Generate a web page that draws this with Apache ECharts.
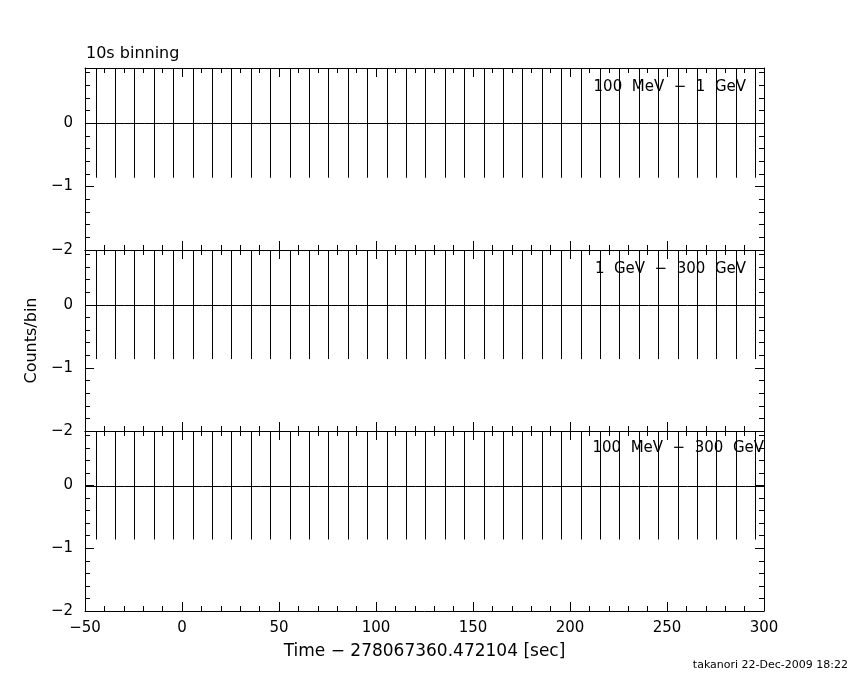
<!DOCTYPE html>
<html>
<head>
<meta charset="utf-8">
<script src="https://cdn.jsdelivr.net/npm/echarts@6/dist/echarts.min.js"></script>
<style>
html,body{margin:0;padding:0;background:#fff;}
#chart{width:850px;height:680px;}
</style>
</head>
<body>
<div id="chart"></div>
<script>
// ---- data ----
var binCenters = [-44.5,-34.5,-24.5,-14.5,-4.5,5.5,15.5,25.5,35.5,45.5,55.5,65.5,75.5,85.5,95.5,105.5,115.5,125.5,135.5,145.5,155.5,165.5,175.5,185.5,195.5,205.5,215.5,225.5,235.5,245.5,255.5,265.5,275.5,285.5,295.5];
var countsLow  = [0,0,0,0,0,0,0,0,0,0,0,0,0,0,0,0,0,0,0,0,0,0,0,0,0,0,0,0,0,0,0,0,0,0,0];
var countsHigh = [0,0,0,0,0,0,0,0,0,0,0,0,0,0,0,0,0,0,0,0,0,0,0,0,0,0,0,0,0,0,0,0,0,0,0];
var countsAll  = [0,0,0,0,0,0,0,0,0,0,0,0,0,0,0,0,0,0,0,0,0,0,0,0,0,0,0,0,0,0,0,0,0,0,0];
var countErr   = [0.86,0.86,0.86,0.86,0.86,0.86,0.86,0.86,0.86,0.86,0.86,0.86,0.86,0.86,0.86,0.86,0.86,0.86,0.86,0.86,0.86,0.86,0.86,0.86,0.86,0.86,0.86,0.86,0.86,0.86,0.86,0.86,0.86,0.86,0.86];
var binHalfWidth = 5;
var panelLabels = ['100  MeV  \u2212  1  GeV', '1  GeV  \u2212  300  GeV', '100  MeV  \u2212  300  GeV'];
var xTitle = 'Time \u2212 278067360.472104 [sec]';
var yTitle = 'Counts/bin';
var topTitle = '10s binning';
var footer = 'takanori 22-Dec-2009 18:22';
var xMin = -50, xMax = 300, yMin = -2, yMax = 0.87;

var FONT = 'DejaVu Sans';
var chart = echarts.init(document.getElementById('chart'), null, {renderer: 'canvas'});

var grids = [
  {left: 85, right: 86, top: 68, height: 182},
  {left: 85, right: 86, top: 250, height: 181},
  {left: 85, right: 86, top: 431, height: 180}
];
var seriesData = [countsLow, countsHigh, countsAll];

var xAxes = [], yAxes = [], series = [];
var lineStyle = {color: '#000', width: 1};
function minusFmt(v){ return String(v).replace('-', '\u2212'); }

grids.forEach(function(g, i){
  var isLast = (i === grids.length - 1);
  ['bottom','top'].forEach(function(pos){
    xAxes.push({
      type: 'value', gridIndex: i, position: pos, min: xMin, max: xMax, interval: 50,
      axisLine: {show: true, onZero: false, lineStyle: lineStyle},
      axisTick: {show: true, inside: true, length: 9, lineStyle: lineStyle},
      minorTick: {show: true, splitNumber: 5, length: 5, lineStyle: lineStyle},
      splitLine: {show: false},
      axisLabel: {show: isLast && pos === 'bottom', color: '#000', fontFamily: FONT, fontSize: 15, margin: 10, formatter: minusFmt},
      name: (isLast && pos === 'bottom') ? xTitle : '',
      nameLocation: 'middle', nameGap: 32,
      nameTextStyle: {color: '#000', fontFamily: FONT, fontSize: 17}
    });
  });
  ['left','right'].forEach(function(pos){
    yAxes.push({
      type: 'value', gridIndex: i, position: pos, min: yMin, max: yMax, interval: 1,
      axisLine: {show: true, onZero: false, lineStyle: lineStyle},
      axisTick: {show: true, inside: true, length: 9, lineStyle: lineStyle},
      minorTick: {show: true, splitNumber: 5, length: 5, lineStyle: lineStyle},
      splitLine: {show: false},
      axisLabel: {show: pos === 'left', showMaxLabel: false, color: '#000', fontFamily: FONT, fontSize: 15, margin: 12,
        formatter: function(v){ return (Math.abs(v - Math.round(v)) < 1e-6) ? minusFmt(v) : ''; }},
      name: (i === 1 && pos === 'left') ? yTitle : '',
      nameLocation: 'middle', nameGap: 42,
      nameTextStyle: {color: '#000', fontFamily: FONT, fontSize: 16}
    });
  });
  var d = binCenters.map(function(t, k){ return [t, seriesData[i][k], countErr[k]]; });
  series.push({
    type: 'custom', xAxisIndex: i * 2, yAxisIndex: i * 2, clip: true,
    data: d,
    renderItem: function(params, api){
      var x = api.value(0), y = api.value(1), e = api.value(2);
      var pLo = api.coord([x, y - e]);
      var pHi = api.coord([x, y + e]);
      var pL = api.coord([x - binHalfWidth, y]);
      var pR = api.coord([x + binHalfWidth, y]);
      var cx = Math.round(pLo[0]) + 0.5, cy = Math.round(pL[1]) + 0.5;
      return {
        type: 'group',
        children: [
          {type: 'line', shape: {x1: cx, y1: pLo[1], x2: cx, y2: pHi[1]}, style: {stroke: '#000', lineWidth: 1}},
          {type: 'line', shape: {x1: pL[0], y1: cy, x2: pR[0], y2: cy}, style: {stroke: '#000', lineWidth: 1}}
        ]
      };
    }
  });
});

var titles = [
  {text: topTitle, left: 86, top: 46, textStyle: {color: '#000', fontFamily: FONT, fontSize: 16, fontWeight: 'normal'}},
  {text: panelLabels[0], right: 104, top: 80, textStyle: {color: '#000', fontFamily: FONT, fontSize: 15, fontWeight: 'normal'}},
  {text: panelLabels[1], right: 104, top: 262, textStyle: {color: '#000', fontFamily: FONT, fontSize: 15, fontWeight: 'normal'}},
  {text: panelLabels[2], right: 86, top: 441, textStyle: {color: '#000', fontFamily: FONT, fontSize: 15, fontWeight: 'normal'}},
  {text: footer, right: 2, top: 660, textStyle: {color: '#000', fontFamily: FONT, fontSize: 11, fontWeight: 'normal'}}
];
titles.forEach(function(t){ t.padding = 0; });

chart.setOption({
  animation: false,
  backgroundColor: '#fff',
  title: titles,
  grid: grids,
  xAxis: xAxes,
  yAxis: yAxes,
  series: series
});
</script>
</body>
</html>
